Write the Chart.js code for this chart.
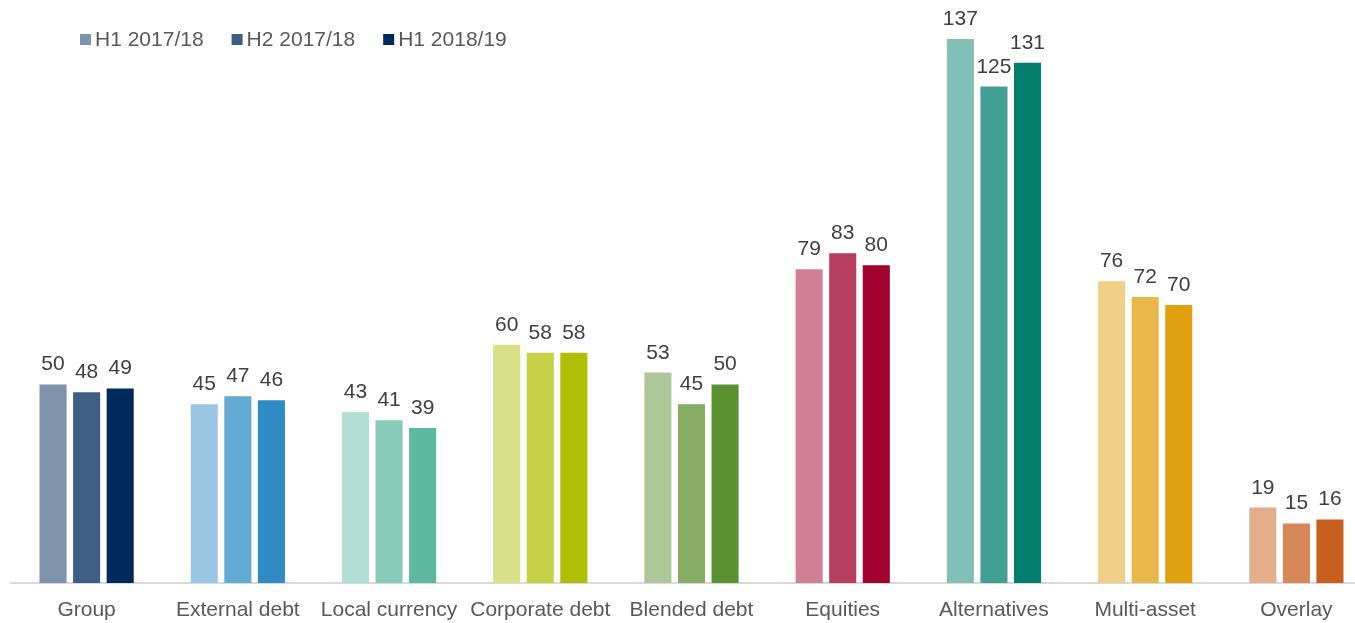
<!DOCTYPE html>
<html>
<head>
<meta charset="utf-8">
<script src="https://cdn.jsdelivr.net/npm/chart.js@4.4.1/dist/chart.umd.min.js"></script>
<style>
  html, body { margin: 0; padding: 0; background: #fff; overflow: hidden; }
  #wrap { position: relative; width: 1372px; height: 623px; }
</style>
</head>
<body>
<div id="wrap"><canvas id="aumChart" width="1372" height="623"></canvas></div>
<script>
const categories = ['Group', 'External debt', 'Local currency', 'Corporate debt', 'Blended debt',
    'Equities', 'Alternatives', 'Multi-asset', 'Overlay'];
const periods = ['H1 2017/18', 'H2 2017/18', 'H1 2018/19'];

const h1_1718 = [50, 45, 43, 60, 53, 79, 137, 76, 19];
const h2_1718 = [48, 47, 41, 58, 45, 83, 125, 72, 15];
const h1_1819 = [49, 46, 39, 58, 50, 80, 131, 70, 16];

// shades per category: light, mid, dark
const palette = [
    ['#7f93ab', '#3f5e85', '#002a5c'],
    ['#9ac6e3', '#63aad3', '#2e8bc6'],
    ['#b0ded4', '#87cbb8', '#5eb9a1'],
    ['#d9e186', '#c5d147', '#afbf06'],
    ['#adc898', '#86ad63', '#5c9132'],
    ['#d07f95', '#b83e60', '#a2002f'],
    ['#82bfb6', '#419f93', '#037e6e'],
    ['#f0cf86', '#e7b74a', '#e0a010'],
    ['#e2ae8c', '#d68856', '#c85f1e']
];

const FONT = 'Arial, "Liberation Sans", sans-serif';

// value labels above each bar
const valueLabels = {
    id: 'valueLabels',
    afterDatasetsDraw(chart) {
        const ctx = chart.ctx;
        ctx.save();
        ctx.font = '21px ' + FONT;
        ctx.fillStyle = '#404040';
        ctx.textAlign = 'center';
        ctx.textBaseline = 'alphabetic';
        chart.data.datasets.forEach((ds, i) => {
            chart.getDatasetMeta(i).data.forEach((bar, j) => {
                ctx.fillText(ds.data[j], bar.x, bar.y - 14);
            });
        });
        ctx.restore();
    }
};

// legend row in the top-left corner
const topLegend = {
    id: 'topLegend',
    afterDraw(chart) {
        const ctx = chart.ctx;
        ctx.save();
        ctx.font = '21px ' + FONT;
        ctx.textBaseline = 'middle';
        let x = 80;
        const y = 40;
        chart.data.datasets.forEach((ds, i) => {
            ctx.fillStyle = palette[0][i];
            ctx.fillRect(x, y - 6, 11, 11);
            x += 15;
            ctx.fillStyle = '#595959';
            ctx.fillText(ds.label, x, y);
            x += ctx.measureText(ds.label).width + 28;
        });
        ctx.restore();
    }
};

const series = [h1_1718, h2_1718, h1_1819];

new Chart(document.getElementById('aumChart').getContext('2d'), {
    type: 'bar',
    data: {
        labels: categories,
        datasets: series.map((data, i) => ({
            label: periods[i],
            data,
            backgroundColor: palette.map(p => p[i]),
            borderWidth: 0,
            categoryPercentage: 0.666,
            barPercentage: 0.806
        }))
    },
    options: {
        responsive: false,
        animation: false,
        layout: { padding: { left: 11, right: 0, top: 27, bottom: 0 } },
        plugins: {
            legend: { display: false },
            tooltip: { enabled: false }
        },
        scales: {
            x: {
                grid: { display: false },
                border: { display: true, color: '#d9d9d9', width: 2 },
                ticks: {
                    color: '#595959',
                    font: { family: FONT, size: 21 },
                    padding: 7,
                    maxRotation: 0,
                    autoSkip: false
                },
                afterFit(scale) { scale.height = 40; }
            },
            y: {
                display: false,
                min: 0,
                max: 140
            }
        }
    },
    plugins: [valueLabels, topLegend]
});
</script>
</body>
</html>
